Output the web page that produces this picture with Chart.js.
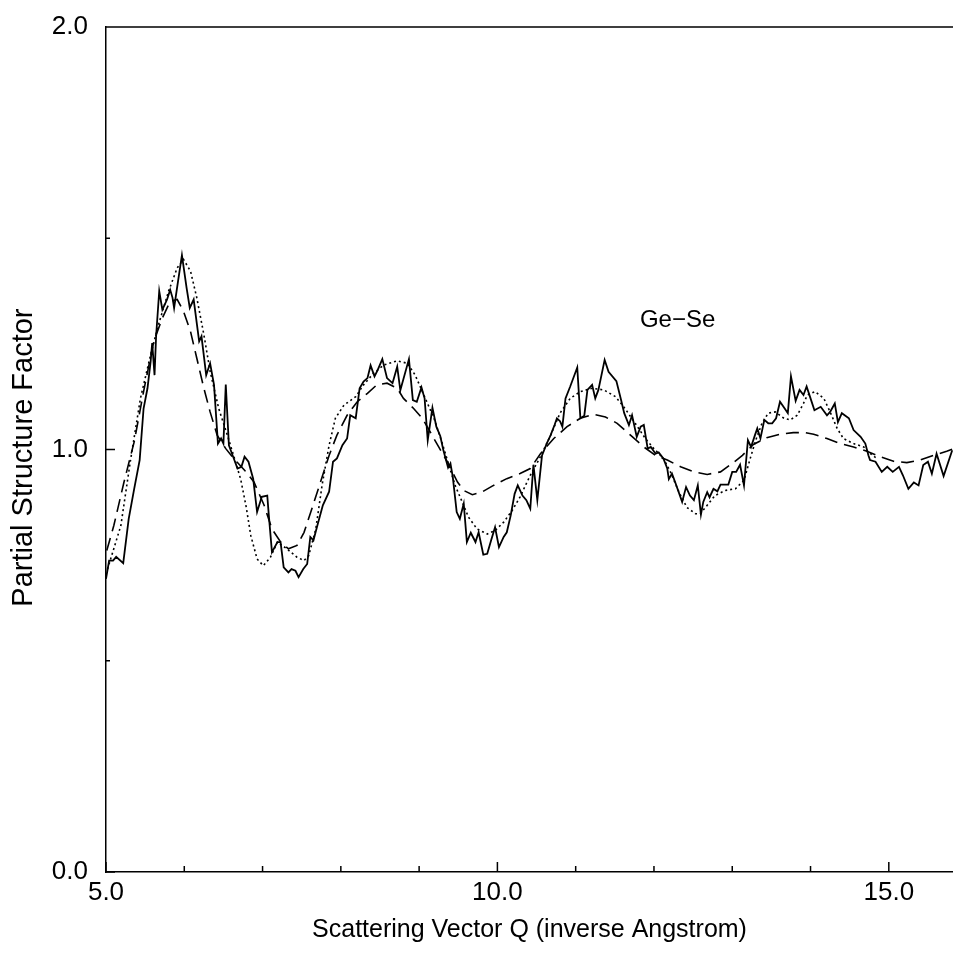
<!DOCTYPE html>
<html>
<head>
<meta charset="utf-8">
<script src="https://cdn.jsdelivr.net/npm/chart.js@4"></script>
<style>
  body { margin: 0; background: #fff; }
  #wrap { width: 953px; height: 957px; }
</style>
</head>
<body>
<div id="wrap"><canvas id="sqChart"></canvas></div>
<script>
// measured data (solid)
var qSolid = [5.00,5.04,5.09,5.13,5.22,5.29,5.36,5.43,5.48,5.53,5.57,5.59,5.62,5.64,5.68,5.72,5.78,5.82,5.85,5.87,5.92,5.97,6.03,6.07,6.12,6.19,6.22,6.28,6.33,6.38,6.43,6.47,6.50,6.53,6.57,6.63,6.68,6.73,6.77,6.82,6.88,6.93,6.99,7.06,7.08,7.12,7.19,7.23,7.27,7.33,7.37,7.42,7.46,7.52,7.57,7.61,7.65,7.70,7.77,7.85,7.90,7.95,8.02,8.08,8.12,8.19,8.24,8.29,8.34,8.38,8.43,8.47,8.53,8.59,8.66,8.72,8.76,8.87,8.92,8.97,9.03,9.07,9.11,9.17,9.22,9.27,9.31,9.37,9.40,9.43,9.48,9.52,9.57,9.61,9.66,9.72,9.76,9.82,9.87,9.92,9.97,10.02,10.08,10.12,10.17,10.22,10.26,10.32,10.37,10.42,10.46,10.51,10.57,10.63,10.68,10.73,10.76,10.80,10.83,10.87,10.93,11.02,11.06,11.11,11.15,11.21,11.25,11.29,11.37,11.42,11.52,11.58,11.62,11.68,11.72,11.78,11.83,11.87,11.92,11.96,12.02,12.06,12.12,12.17,12.19,12.23,12.27,12.36,12.41,12.46,12.51,12.56,12.60,12.63,12.68,12.71,12.76,12.81,12.85,12.95,13.00,13.05,13.10,13.15,13.20,13.24,13.29,13.32,13.36,13.41,13.46,13.51,13.56,13.61,13.67,13.71,13.75,13.81,13.86,13.91,13.95,14.00,14.05,14.13,14.21,14.25,14.31,14.35,14.40,14.49,14.55,14.64,14.70,14.74,14.76,14.83,14.91,14.98,15.05,15.13,15.18,15.25,15.32,15.38,15.44,15.50,15.55,15.61,15.70,15.81];
var sSolid = [0.694,0.737,0.737,0.746,0.731,0.836,0.907,0.975,1.097,1.145,1.208,1.252,1.176,1.268,1.375,1.331,1.355,1.378,1.359,1.335,1.398,1.460,1.382,1.335,1.355,1.256,1.268,1.176,1.204,1.153,1.014,1.026,1.014,1.154,1.010,0.980,0.955,0.959,0.983,0.971,0.931,0.852,0.888,0.891,0.844,0.757,0.781,0.781,0.721,0.709,0.717,0.713,0.698,0.717,0.729,0.793,0.785,0.820,0.868,0.900,0.971,0.979,1.010,1.026,1.081,1.074,1.145,1.161,1.169,1.199,1.173,1.188,1.214,1.169,1.157,1.196,1.140,1.214,1.117,1.113,1.147,1.121,1.022,1.099,1.054,1.032,0.998,0.957,0.967,0.935,0.852,0.836,0.872,0.781,0.803,0.781,0.804,0.751,0.753,0.785,0.816,0.769,0.793,0.804,0.844,0.895,0.915,0.891,0.880,0.860,0.964,0.880,0.986,1.014,1.034,1.058,1.074,1.067,1.054,1.121,1.149,1.194,1.074,1.080,1.141,1.153,1.121,1.141,1.212,1.184,1.162,1.117,1.086,1.058,1.081,1.030,1.054,1.058,1.002,1.006,0.990,0.993,0.979,0.955,0.930,0.943,0.923,0.876,0.911,0.891,0.880,0.915,0.846,0.876,0.899,0.887,0.907,0.901,0.917,0.917,0.947,0.947,0.964,0.915,1.022,1.006,1.034,1.050,1.026,1.070,1.062,1.062,1.074,1.113,1.097,1.086,1.173,1.115,1.141,1.129,1.149,1.121,1.093,1.101,1.081,1.089,1.109,1.065,1.086,1.074,1.046,1.030,1.014,0.986,0.975,0.971,0.947,0.959,0.947,0.959,0.939,0.907,0.922,0.915,0.963,0.971,0.943,0.990,0.937,0.998];

// model curve (dotted)
var qDotted = [5.02,5.19,5.31,5.44,5.57,5.67,5.80,5.91,5.99,6.08,6.16,6.25,6.33,6.44,6.55,6.63,6.72,6.79,6.85,6.93,7.01,7.10,7.19,7.31,7.44,7.53,7.59,7.68,7.76,7.85,7.93,8.04,8.19,8.29,8.42,8.55,8.72,8.85,8.95,9.06,9.19,9.29,9.38,9.46,9.55,9.63,9.74,9.87,9.97,10.08,10.19,10.29,10.42,10.55,10.68,10.80,10.93,11.06,11.21,11.36,11.51,11.63,11.76,11.89,12.00,12.12,12.21,12.32,12.42,12.53,12.59,12.68,12.78,12.91,13.04,13.15,13.23,13.30,13.38,13.46,13.55,13.66,13.74,13.83,13.91,13.96,14.06,14.17,14.25,14.34,14.42,14.55,14.68,14.74,14.85];
var sDotted = [0.717,0.820,0.971,1.121,1.224,1.295,1.375,1.430,1.450,1.422,1.359,1.272,1.185,1.097,1.034,0.986,0.930,0.865,0.796,0.741,0.725,0.745,0.781,0.765,0.745,0.737,0.749,0.812,0.915,1.010,1.074,1.105,1.125,1.153,1.181,1.200,1.210,1.204,1.176,1.129,1.074,1.018,0.963,0.915,0.876,0.840,0.812,0.800,0.808,0.828,0.856,0.888,0.939,0.983,1.034,1.086,1.121,1.137,1.145,1.141,1.125,1.097,1.062,1.026,1.002,0.979,0.947,0.899,0.863,0.848,0.848,0.868,0.891,0.903,0.907,0.927,0.979,1.022,1.062,1.086,1.089,1.074,1.070,1.081,1.109,1.129,1.137,1.121,1.089,1.050,1.026,1.014,1.006,0.994,0.978];

// model curve (dashed)
var qDashed = [5.01,5.10,5.23,5.36,5.48,5.61,5.72,5.82,5.91,5.99,6.08,6.16,6.25,6.33,6.42,6.53,6.63,6.77,6.89,7.02,7.12,7.23,7.33,7.44,7.53,7.63,7.74,7.85,7.95,8.08,8.21,8.34,8.46,8.59,8.72,8.80,8.93,9.04,9.14,9.25,9.36,9.49,9.57,9.68,9.80,9.95,10.12,10.29,10.42,10.55,10.72,10.89,11.06,11.23,11.38,11.53,11.70,11.87,12.02,12.17,12.34,12.51,12.68,12.85,13.00,13.13,13.27,13.44,13.61,13.78,13.93,14.04,14.21,14.38,14.55,14.72,14.89,15.06,15.23,15.40,15.57,15.74,15.83];
var sDashed = [0.761,0.820,0.923,1.018,1.137,1.256,1.311,1.351,1.355,1.327,1.279,1.216,1.145,1.089,1.034,1.002,0.979,0.951,0.923,0.868,0.812,0.781,0.765,0.773,0.804,0.860,0.923,0.986,1.034,1.081,1.113,1.133,1.153,1.157,1.145,1.121,1.097,1.074,1.042,1.006,0.971,0.923,0.903,0.893,0.899,0.915,0.931,0.943,0.955,0.990,1.026,1.054,1.074,1.083,1.077,1.062,1.034,1.006,0.986,0.975,0.959,0.947,0.941,0.947,0.967,0.986,1.012,1.028,1.036,1.040,1.040,1.036,1.026,1.014,1.006,0.996,0.983,0.972,0.969,0.975,0.986,0.996,1.002];

var xTicks = [5, 10, 15];
var xMinor = [6, 7, 8, 9, 11, 12, 13, 14];
var yTicks = [0, 1, 2];
var yMinor = [0.5, 1.5];

function pairs(xs, ys) {
    return xs.map(function (v, i) { return { x: v, y: ys[i] }; });
}

function noPad(s) {
    s.paddingTop = 0; s.paddingBottom = 0; s.paddingLeft = 0; s.paddingRight = 0;
}

var FONT = '"Liberation Sans", Arial, Helvetica, sans-serif';
Chart.defaults.color = '#000';
Chart.defaults.font.family = FONT;

var framePlugin = {
    id: 'frame',
    afterDraw: function (chart) {
        var ctx = chart.ctx, a = chart.chartArea;
        var x = chart.scales.x, y = chart.scales.y;
        ctx.save();
        ctx.strokeStyle = '#000';
        ctx.lineWidth = 1.5;
        ctx.beginPath();
        ctx.moveTo(a.left, a.top);
        ctx.lineTo(a.right, a.top);
        xTicks.forEach(function (v) {
            var p = x.getPixelForValue(v);
            ctx.moveTo(p, a.bottom); ctx.lineTo(p, a.bottom - 10);
        });
        xMinor.forEach(function (v) {
            var p = x.getPixelForValue(v);
            ctx.moveTo(p, a.bottom); ctx.lineTo(p, a.bottom - 6);
        });
        yTicks.forEach(function (v) {
            var p = y.getPixelForValue(v);
            ctx.moveTo(a.left, p); ctx.lineTo(a.left + 9, p);
        });
        yMinor.forEach(function (v) {
            var p = y.getPixelForValue(v);
            ctx.moveTo(a.left, p); ctx.lineTo(a.left + 4, p);
        });
        ctx.stroke();
        ctx.fillStyle = '#000';
        ctx.font = '24px ' + FONT;
        ctx.textBaseline = 'middle';
        ctx.fillText('Ge\u2212Se', x.getPixelForValue(11.82), y.getPixelForValue(1.305));
        ctx.restore();
    }
};

var lineStyle = { borderColor: '#000', borderWidth: 1.6, pointRadius: 0, tension: 0, fill: false };

var ctx = document.getElementById('sqChart').getContext('2d');
new Chart(ctx, {
    type: 'line',
    data: {
        datasets: [
            Object.assign({ label: 'data', data: pairs(qSolid, sSolid) }, lineStyle, { borderWidth: 1.8 }),
            Object.assign({ label: 'model 1', data: pairs(qDotted, sDotted), borderDash: [2, 3] }, lineStyle),
            Object.assign({ label: 'model 2', data: pairs(qDashed, sDashed), borderDash: [13, 7] }, lineStyle)
        ]
    },
    options: {
        responsive: true,
        maintainAspectRatio: false,
        animation: false,
        layout: { padding: { top: 27, right: 0, left: 0, bottom: 0 } },
        plugins: { legend: { display: false }, tooltip: { enabled: false } },
        scales: {
            x: {
                type: 'linear',
                min: 5,
                max: 15.82,
                afterBuildTicks: function (s) { s.ticks = xTicks.map(function (v) { return { value: v }; }); },
                afterFit: function (s) { s.height = 85; noPad(s); },
                grid: { display: false, drawTicks: false },
                border: { display: true, color: '#000', width: 1.5 },
                ticks: {
                    padding: 5,
                    maxRotation: 0,
                    font: { size: 26 },
                    callback: function (v) { return Number(v).toFixed(1); }
                },
                title: {
                    display: true,
                    text: 'Scattering Vector Q (inverse Angstrom)',
                    font: { size: 25 },
                    padding: { top: 0, bottom: 12 }
                }
            },
            y: {
                min: 0,
                max: 2,
                afterBuildTicks: function (s) { s.ticks = yTicks.map(function (v) { return { value: v }; }); },
                afterFit: function (s) { s.width = 106; noPad(s); },
                grid: { display: false, drawTicks: false },
                border: { display: true, color: '#000', width: 1.5 },
                ticks: {
                    padding: 18,
                    font: { size: 26 },
                    callback: function (v) { return Number(v).toFixed(1); }
                },
                title: {
                    display: true,
                    // trailing spaces nudge the rotated title down a little
                    text: 'Partial Structure Factor  ',
                    font: { size: 29 },
                    padding: { top: 7, bottom: 0 }
                }
            }
        }
    },
    plugins: [framePlugin]
});
</script>
</body>
</html>
